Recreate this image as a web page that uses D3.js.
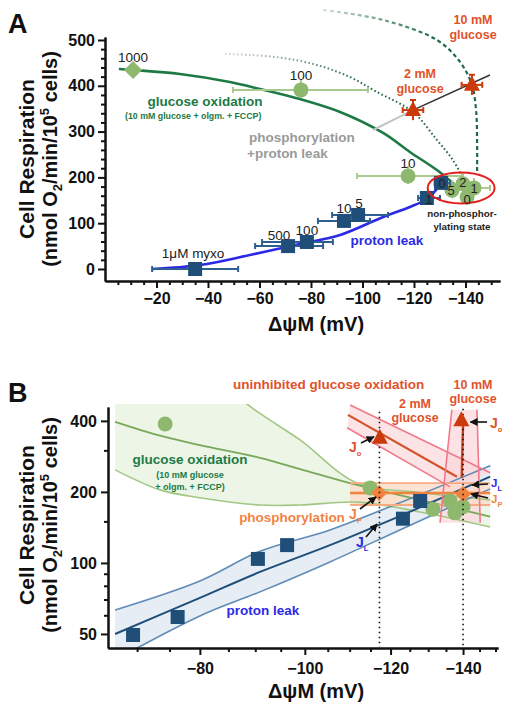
<!DOCTYPE html>
<html><head><meta charset="utf-8">
<script src="https://cdn.jsdelivr.net/npm/d3@7"></script>
<style>body{margin:0;background:#fff}svg{display:block}text{font-family:"Liberation Sans",Arial,sans-serif}</style>
</head><body><svg id="c" width="514" height="713"></svg>
<script>
// ================= DATA: Panel A =================
const oxLabelsA = ["1000", "100", "10", "5", "2", "0", "1"];
const oxVA      = [-10.9, -76.1, -117.7, -134.8, -139.0, -140.6, -143.3];
const oxJA      = [434.5, 391, 203, 172, 186, 157, 177];
const oxErrLoA  = [-10.9, -49.7, -97.9, -134.8, -139.0, -140.6, -140.0];
const oxErrHiA  = [-10.9, -102.1, -138.6, -134.8, -139.0, -140.6, -149.5];

const leakLabelsA = ["1μM myxo", "500", "100", "10", "5", "1", "0"];
const leakVA      = [-35.0, -71.1, -78.4, -92.8, -98.3, -125.0, -130.5];
const leakJA      = [0, 50, 59, 105, 118, 155, 188];
const leakErrLoA  = [-18.3, -58.3, -61.0, -82.7, -88.2, -121.6, -128.0];
const leakErrHiA  = [-51.7, -84.7, -88.5, -102.9, -109.9, -130.1, -134.0];

const glucLabelsA = ["2 mM", "10 mM"];
const glucVA      = [-119.6, -142.5];
const glucJA      = [347, 402];

const oxCurveV = [-5.4, -10.9, -29.1, -48.5, -60.2, -75.7, -91.3, -108.0, -118.4, -128.9, -135.9];
const oxCurveJ = [436.7, 434.5, 425.8, 408.3, 393, 371, 342.8, 297, 255.5, 216, 183.4];

const leakCurveV = [-18.3, -36.9, -56.3, -75.7, -91.3, -108.0, -118.4, -125.0, -128.9];
const leakCurveJ = [0, 8.7, 30.6, 54.6, 74.2, 113.5, 135.4, 152.8, 174.7];

const gluc2CurveV = [-46.6, -56.3, -69.1, -82.3, -95.1, -105.6, -119.6, -128.9, -135.1, -139.0];
const gluc2CurveJ = [469.4, 467.2, 460.7, 445.4, 419.2, 386.5, 342.8, 281.7, 238, 198.7];

const gluc10CurveV = [-84.7, -108.0, -128.9, -137.9, -142.5, -144.1, -144.5, -144.5];
const gluc10CurveJ = [565.5, 543.7, 500, 452, 401.7, 347, 281.7, 205];

const phosLineV = [-104.1, -119.6, -149.5];
const phosLineJ = [303.5, 347, 423.6];

const xTicksA = [-20, -40, -60, -80, -100, -120, -140];
const yTicksA = [0, 100, 200, 300, 400, 500];

// ================= DATA: Panel B =================
const oxVB = [-74.3, -114.9, -131.3, -136.2, -137.6, -140.0];
const oxJB = [388, 208, 169, 183, 163, 173];

const leakVB = [-69.4, -76.3, -90.5, -96.3, -123.2, -127.8];
const leakJB = [49.5, 59, 104, 119, 154, 183];

const phosVB = [-117.1, -140.0];
const phosJB = [198, 196];

const glucVB = [-117.3, -139.5];
const glucJB = [339, 402];

const leakBandV   = [-66.8, -80.0, -90.9, -105.5, -122.4, -148.3];
const leakBandMid = [50, 71.1, 91.6, 119, 158, 232];
const leakBandHi  = [63.2, 83.9, 112, 138, 180, 258];
const leakBandLo  = [38.8, 59.6, 75.4, 101, 138, 206];

const oxBandV   = [-66.8, -73.5, -80.0, -90.9, -99.0, -111.7, -127.8, -148.3];
const oxBandMid = [396, 346, 316, 279, 250, 214, 185, 157];
const oxBandHi  = [970, 800, 658, 430, 332, 218, 199, 185];
const oxBandLo  = [248, 204, 189, 176, 176, 181, 164.5, 142];

const phosBandV   = [-110.1, -148.3];
const phosBandMid = [198, 198];
const phosBandHi  = [218, 218];
const phosBandLo  = [176, 176];

const g2BandV1 = [-109.6, -138.2], g2BandMid = [424, 232];
const g2BandV2 = [-110.1, -148.3], g2BandHi = [467, 241];
const g2BandV3 = [-109.4, -136.2], g2BandLo = [374, 210];

const g10BandLeftV  = [-136.7, -133.3];
const g10BandRightV = [-144.2, -145.2];
const g10BandJ      = [446, 148];
const g10ArrowV = [-139.6, -140.0];
const g10ArrowJ = [230, 388];

const dropV = [-117.2, -140.0];
const dropTopJ = [437, 450];

const xTicksB = [-80, -100, -120, -140];
const yTicksB = [50, 100, 200, 400];
const yMinorB = [60, 70, 80, 90, 150, 300];

// ================= DRAW =================
const svg = d3.select("#c");
const FONT = '"Liberation Sans",Arial,sans-serif';
const col = {
  dkGreen: "#1d7a45", ltGreen: "#8fb86f", ltGreenErr: "#a9ca8f",
  navy: "#1f4e79", navyErr: "#2f5f90", blue: "#2a2ae6",
  red: "#cc3a0c", redTxt: "#e0532a", grey: "#9a9a9a", orange: "#f2833f"
};
const defs = svg.append("defs");
function arrowMarker(id, color){
  defs.append("marker").attr("id", id).attr("viewBox","0 0 10 10").attr("refX",9).attr("refY",5)
    .attr("markerWidth",5).attr("markerHeight",5).attr("orient","auto")
    .append("path").attr("d","M0,0L10,5L0,10z").attr("fill", color);
}
arrowMarker("arrK", "#111");

function zip(v, j){ return v.map((d,i)=>[d, j[i]]); }

// ---------- Panel A ----------
const xA = d3.scaleLinear().domain([0, -153.4]).range([105, 500]);
const yA = d3.scaleLinear().domain([-26.2, 506.5]).range([281, 37]);
const gA = svg.append("g");

function styleAxis(g){
  g.select(".domain").attr("stroke","#111").attr("stroke-width",2);
  g.selectAll(".tick line").attr("stroke","#111").attr("stroke-width",2);
  g.selectAll("text").style("font-family",FONT).style("font-size","16px").style("font-weight","bold").attr("fill","#111");
}
const fmt = d => (d < 0 ? "\u2212" : "") + Math.abs(d);

const xMinorA = d3.range(-5, -155, -5).filter(d => d % 20 !== 0);
gA.append("g").attr("transform","translate(0,281)")
  .call(d3.axisBottom(xA).tickValues(xMinorA).tickSize(4).tickSizeOuter(0).tickFormat(""))
  .call(styleAxis);
gA.append("g").attr("transform","translate(0,281)")
  .call(d3.axisBottom(xA).tickValues(xTicksA).tickSize(7).tickPadding(5).tickSizeOuter(0).tickFormat(fmt))
  .call(styleAxis);
const yMinorA = d3.range(20, 500, 20).filter(d => d % 100 !== 0);
gA.append("g").attr("transform","translate(105,0)")
  .call(d3.axisLeft(yA).tickValues(yMinorA).tickSize(4).tickSizeOuter(0).tickFormat(""))
  .call(styleAxis);
gA.append("g").attr("transform","translate(105,0)")
  .call(d3.axisLeft(yA).tickValues(yTicksA).tickSize(7).tickPadding(3).tickSizeOuter(0).tickFormat(fmt))
  .call(styleAxis);

function hGrad(id, x1, x2, c1, c2){
  const g = defs.append("linearGradient").attr("id", id).attr("gradientUnits","userSpaceOnUse")
    .attr("x1", x1).attr("x2", x2).attr("y1",0).attr("y2",0);
  g.append("stop").attr("offset",0).attr("stop-color",c1);
  g.append("stop").attr("offset",1).attr("stop-color",c2);
}
hGrad("g2grad", xA(-46), xA(-100), "#d8d8d8", "#2a6a48");
hGrad("g10grad", xA(-84), xA(-128), "#d5e2d5", "#1d6b44");

const lineA = d3.line().x(d => xA(d[0])).y(d => yA(d[1])).curve(d3.curveCatmullRom.alpha(0.5));
gA.append("path").attr("d", lineA(zip(gluc2CurveV, gluc2CurveJ))).attr("fill","none")
  .attr("stroke","url(#g2grad)").attr("stroke-width",2).attr("stroke-dasharray","1.6,2.4");
gA.append("path").attr("d", lineA(zip(gluc10CurveV, gluc10CurveJ))).attr("fill","none")
  .attr("stroke","url(#g10grad)").attr("stroke-width",2.2).attr("stroke-dasharray","4,3");
gA.append("path").attr("d", lineA(zip(oxCurveV, oxCurveJ))).attr("fill","none")
  .attr("stroke", col.dkGreen).attr("stroke-width",2.6);
gA.append("path").attr("d", lineA(zip(leakCurveV, leakCurveJ))).attr("fill","none")
  .attr("stroke", col.blue).attr("stroke-width",2.6);
gA.append("line").attr("x1", xA(phosLineV[0])).attr("y1", yA(phosLineJ[0]))
  .attr("x2", xA(phosLineV[1])).attr("y2", yA(phosLineJ[1])).attr("stroke","#c4c4c4").attr("stroke-width",2);
gA.append("line").attr("x1", xA(phosLineV[1])).attr("y1", yA(phosLineJ[1]))
  .attr("x2", xA(phosLineV[2])).attr("y2", yA(phosLineJ[2])).attr("stroke","#333").attr("stroke-width",1.5);

function errH(g, xs, x1, x2, y, color, w){
  if (Math.abs(xs(x1) - xs(x2)) < 1) return;
  g.append("line").attr("x1", xs(x1)).attr("x2", xs(x2)).attr("y1", y).attr("y2", y).attr("stroke", color).attr("stroke-width", w);
  [x1, x2].forEach(v => g.append("line").attr("x1", xs(v)).attr("x2", xs(v)).attr("y1", y-3).attr("y2", y+3).attr("stroke", color).attr("stroke-width", w));
}
oxVA.forEach((v,i) => errH(gA, xA, oxErrLoA[i], oxErrHiA[i], yA(oxJA[i]), col.ltGreenErr, 2));
oxVA.forEach((v,i) => {
  const cx = xA(v), cy = yA(oxJA[i]);
  if (i === 0) {
    gA.append("path").attr("d", `M${cx-9},${cy}L${cx},${cy-9}L${cx+9},${cy}L${cx},${cy+9}Z`).attr("fill", col.ltGreen);
  } else {
    gA.append("line").attr("x1",cx).attr("x2",cx).attr("y1",cy-10).attr("y2",cy+8).attr("stroke",col.ltGreenErr).attr("stroke-width",2);
    gA.append("circle").attr("cx", cx).attr("cy", cy).attr("r", 7.5).attr("fill", col.ltGreen);
  }
});
leakVA.forEach((v,i) => errH(gA, xA, leakErrLoA[i], leakErrHiA[i], yA(leakJA[i]), col.navyErr, 2));
leakVA.forEach((v,i) => {
  const cx = xA(v), cy = yA(leakJA[i]);
  gA.append("rect").attr("x", cx-7).attr("y", cy-7).attr("width",14).attr("height",14).attr("fill", col.navy);
});
glucVA.forEach((v,i) => {
  const cx = xA(v), cy = yA(glucJA[i]);
  errH(gA, xA, v+4, v-4, cy, col.red, 2);
  gA.append("line").attr("x1",cx).attr("x2",cx).attr("y1",yA(glucJA[i]+22)).attr("y2",yA(glucJA[i]-22)).attr("stroke",col.red).attr("stroke-width",2);
  gA.append("line").attr("x1",cx-3).attr("x2",cx+3).attr("y1",yA(glucJA[i]+22)).attr("y2",yA(glucJA[i]+22)).attr("stroke",col.red).attr("stroke-width",2);
  gA.append("path").attr("d", `M${cx},${cy-9}L${cx+8},${cy+6}L${cx-8},${cy+6}Z`).attr("fill", col.red);
});
gA.append("ellipse").attr("cx", xA(-138.3)).attr("cy", yA(177)).attr("rx", 33.5).attr("ry", 15.5)
  .attr("fill","none").attr("stroke","#e41e1e").attr("stroke-width",2);

function txt(g, x, y, s, opt){
  opt = opt || {};
  return g.append("text").attr("x", x).attr("y", y).text(s)
    .attr("text-anchor", opt.anchor || "middle")
    .style("font-size", (opt.size || 13.5) + "px")
    .style("font-weight", opt.bold ? "bold" : "normal")
    .attr("fill", opt.color || "#222");
}
txt(gA, xA(oxVA[0]), 62, oxLabelsA[0]);
txt(gA, xA(oxVA[1]), 80, oxLabelsA[1]);
txt(gA, xA(oxVA[2]), 168, oxLabelsA[2]);
txt(gA, xA(leakVA[0]) - 2, 258, leakLabelsA[0]);
txt(gA, xA(leakVA[1]) - 9, 240, leakLabelsA[1]);
txt(gA, xA(leakVA[2]), 235, leakLabelsA[2]);
txt(gA, xA(leakVA[3]), 213, leakLabelsA[3]);
txt(gA, xA(leakVA[4]) + 1, 208, leakLabelsA[4]);
txt(gA, xA(leakVA[6]) + 1, yA(leakJA[6]) + 5, leakLabelsA[6], {size:13});
txt(gA, xA(leakVA[5]) + 2, yA(leakJA[5]) + 6, leakLabelsA[5], {size:13});
txt(gA, xA(oxVA[3]) - 1, yA(oxJA[3]) + 5, oxLabelsA[3], {size:13});
txt(gA, xA(oxVA[4]), yA(oxJA[4]) + 3, oxLabelsA[4], {size:13});
txt(gA, xA(oxVA[5]), yA(oxJA[5]) + 7, oxLabelsA[5], {size:13});
txt(gA, xA(oxVA[6]), yA(oxJA[6]) + 5, oxLabelsA[6], {size:13});

txt(gA, 8, 33, "A", {anchor:"start", size:27, bold:true, color:"#111"});
txt(gA, 205, 106, "glucose oxidation", {size:13.5, bold:true, color:col.dkGreen});
txt(gA, 125, 119, "(10 mM glucose + olgm. + FCCP)", {anchor:"start", size:8.8, bold:true, color:col.dkGreen});
txt(gA, 249, 142, "phosphorylation", {anchor:"start", size:13.5, bold:true, color:col.grey});
txt(gA, 247, 158, "+proton leak", {anchor:"start", size:13.5, bold:true, color:col.grey});
txt(gA, 420, 78, glucLabelsA[0], {size:12.5, bold:true, color:col.redTxt});
txt(gA, 420, 92.5, "glucose", {size:12.5, bold:true, color:col.redTxt});
txt(gA, 473, 24, glucLabelsA[1], {size:12.5, bold:true, color:col.redTxt});
txt(gA, 473, 38.5, "glucose", {size:12.5, bold:true, color:col.redTxt});
txt(gA, 387, 245, "proton leak", {size:13.5, bold:true, color:col.blue});
txt(gA, 462, 217, "non-phosphor-", {size:9.8, bold:true, color:"#222"});
txt(gA, 462, 230, "ylating state", {size:9.8, bold:true, color:"#222"});

function yLabel(g, cy){
  g.append("text").attr("transform", `translate(34,${cy}) rotate(-90)`).attr("text-anchor","middle")
    .style("font-size","21px").style("font-weight","bold").attr("fill","#111").text("Cell Respiration");
  const t = g.append("text").attr("transform", `translate(57,${cy}) rotate(-90)`).attr("text-anchor","middle")
    .style("font-size","20px").style("font-weight","bold").attr("fill","#111");
  t.append("tspan").text("(nmol O");
  t.append("tspan").attr("dy", 5).style("font-size","13px").text("2");
  t.append("tspan").attr("dy", -5).text("/min/10");
  t.append("tspan").attr("dy", -8).style("font-size","13px").text("5");
  t.append("tspan").attr("dy", 8).text(" cells)");
}
function xLabel(g, y){
  g.append("text").attr("x", 316).attr("y", y).attr("text-anchor","middle")
    .style("font-size","20px").style("font-weight","bold").attr("fill","#111").text("\u0394\u03c8M (mV)");
}
yLabel(gA, 159);
xLabel(gA, 331);

// ---------- Panel B ----------
const xB = d3.scaleLog().domain([-65.8, -150.8]).range([108, 498]);
const yB = d3.scaleLog().domain([43.6, 458]).range([648, 407]);
const gB = svg.append("g");
defs.append("clipPath").attr("id","clipB").append("rect").attr("x",108).attr("y",404).attr("width",392).attr("height",244);
const plotB = gB.append("g").attr("clip-path","url(#clipB)");

const lineB = d3.line().x(d => xB(d[0])).y(d => yB(d[1])).curve(d3.curveCatmullRom.alpha(0.5));
const lineBs = d3.line().x(d => xB(d[0])).y(d => yB(d[1]));
const areaB = d3.area().x(d => xB(d[0])).y0(d => yB(d[1])).y1(d => yB(d[2])).curve(d3.curveCatmullRom.alpha(0.5));
function tri(v, a, b){ return v.map((d,i)=>[d, a[i], b[i]]); }

plotB.append("path").attr("d", areaB(tri(oxBandV, oxBandLo, oxBandHi))).attr("fill","#e9f3e2").attr("opacity",0.85);
plotB.append("path").attr("d", areaB(tri(leakBandV, leakBandLo, leakBandHi))).attr("fill","#e3ebf3").attr("opacity",0.9);
plotB.append("path").attr("d", `M${xB(g2BandV2[0])},${yB(g2BandHi[0])}L${xB(g2BandV2[1])},${yB(g2BandHi[1])}L${xB(g2BandV3[1])},${yB(g2BandLo[1])}L${xB(g2BandV3[0])},${yB(g2BandLo[0])}Z`)
  .attr("fill","#fbd9dc").attr("opacity",0.7);
plotB.append("path").attr("d", `M${xB(g10BandLeftV[0])},${yB(g10BandJ[0])}L${xB(g10BandRightV[0])},${yB(g10BandJ[0])}L${xB(g10BandRightV[1])},${yB(g10BandJ[1])}L${xB(g10BandLeftV[1])},${yB(g10BandJ[1])}Z`)
  .attr("fill","#fbd6da").attr("opacity",0.7);
plotB.append("path").attr("d", areaB(tri(phosBandV, phosBandLo, phosBandHi))).attr("fill","#fddccb").attr("opacity",0.8);

function bl(v, j, color, w, curved){ plotB.append("path").attr("d", (curved ? lineB : lineBs)(zip(v, j))).attr("fill","none").attr("stroke", color).attr("stroke-width", w); }
bl(oxBandV, oxBandHi, "#a2c785", 1.6, true);
bl(oxBandV, oxBandLo, "#a2c785", 1.6, true);
bl(oxBandV, oxBandMid, "#78a85a", 1.8, true);
bl(leakBandV, leakBandHi, "#5f8bb6", 1.6, true);
bl(leakBandV, leakBandLo, "#5f8bb6", 1.6, true);
bl(leakBandV, leakBandMid, "#1f4e79", 2, true);
bl(phosBandV, phosBandHi, "#f7ab82", 1.8, false);
bl(phosBandV, phosBandLo, "#f7ab82", 1.8, false);
bl(phosBandV, phosBandMid, col.orange, 2.4, false);
bl(g2BandV2, g2BandHi, "#f2788a", 1.6, false);
bl(g2BandV3, g2BandLo, "#f2788a", 1.6, false);
bl(g2BandV1, g2BandMid, "#d2522a", 2.2, false);
bl(g10BandLeftV, g10BandJ, "#f2788a", 1.6, false);
bl(g10BandRightV, g10BandJ, "#f2788a", 1.6, false);
bl(g10ArrowV, g10ArrowJ, "#c8401a", 2.4, false);

dropV.forEach((v,i) => gB.append("line").attr("x1", xB(v)).attr("x2", xB(v)).attr("y1", yB(dropTopJ[i])).attr("y2", 647)
  .attr("stroke","#111").attr("stroke-width",1.6).attr("stroke-dasharray","1.5,3.5"));

oxVB.forEach((v,i) => plotB.append("circle").attr("cx", xB(v)).attr("cy", yB(oxJB[i])).attr("r", 7.5).attr("fill", col.ltGreen));
leakVB.forEach((v,i) => plotB.append("rect").attr("x", xB(v)-7).attr("y", yB(leakJB[i])-7).attr("width",14).attr("height",14).attr("fill", col.navy));
phosVB.forEach((v,i) => { const cx = xB(v), cy = yB(phosJB[i]);
  plotB.append("path").attr("d", `M${cx-8},${cy}L${cx},${cy-8}L${cx+8},${cy}L${cx},${cy+8}Z`).attr("fill", col.orange); });
glucVB.forEach((v,i) => { const cx = xB(v), cy = yB(glucJB[i]);
  gB.append("path").attr("d", `M${cx},${cy-9}L${cx+8},${cy+6}L${cx-8},${cy+6}Z`).attr("fill", col.red); });

const xMinorB = d3.range(-70, -155, -5).filter(d => d % 20 !== 0);
gB.append("g").attr("transform","translate(0,648)")
  .call(d3.axisBottom(xB).tickValues(xMinorB).tickSize(4).tickSizeOuter(0).tickFormat(""))
  .call(styleAxis);
gB.append("g").attr("transform","translate(0,648)")
  .call(d3.axisBottom(xB).tickValues(xTicksB).tickSize(7).tickPadding(8).tickSizeOuter(0).tickFormat(fmt))
  .call(styleAxis);
gB.append("g").attr("transform","translate(108,0)")
  .call(d3.axisLeft(yB).tickValues(yMinorB).tickSize(4).tickSizeOuter(0).tickFormat(""))
  .call(styleAxis);
gB.append("g").attr("transform","translate(108,0)")
  .call(d3.axisLeft(yB).tickValues(yTicksB).tickSize(7).tickPadding(4).tickSizeOuter(0).tickFormat(fmt))
  .call(styleAxis);

txt(gB, 8, 402, "B", {anchor:"start", size:27, bold:true, color:"#111"});
txt(gB, 233, 389, "uninhibited glucose oxidation", {anchor:"start", size:13.5, bold:true, color:col.redTxt});
txt(gB, 415, 407.5, "2 mM", {size:12.5, bold:true, color:col.redTxt});
txt(gB, 415, 422, "glucose", {size:12.5, bold:true, color:col.redTxt});
txt(gB, 473, 388.5, "10 mM", {size:12.5, bold:true, color:col.redTxt});
txt(gB, 473, 403, "glucose", {size:12.5, bold:true, color:col.redTxt});
txt(gB, 190, 464, "glucose oxidation", {size:13.5, bold:true, color:col.dkGreen});
txt(gB, 190, 477.5, "(10 mM glucose", {size:9, bold:true, color:col.dkGreen});
txt(gB, 190, 489.5, "+ olgm. + FCCP)", {size:9, bold:true, color:col.dkGreen});
txt(gB, 292, 522, "phosphorylation", {size:13.5, bold:true, color:col.orange});
txt(gB, 263, 615, "proton leak", {size:13.5, bold:true, color:col.blue});

function jLab(x, y, sub, color, size){
  const t = gB.append("text").attr("x", x).attr("y", y).attr("fill", color).style("font-size",(size||14)+"px").style("font-weight","bold");
  t.append("tspan").text("J");
  t.append("tspan").attr("dy", 3.5).style("font-size","7.5px").text(sub);
}
function arr(x1,y1,x2,y2){ gB.append("line").attr("x1",x1).attr("y1",y1).attr("x2",x2).attr("y2",y2).attr("stroke","#111").attr("stroke-width",1.6).attr("marker-end","url(#arrK)"); }
jLab(349, 452, "o", col.redTxt); arr(361, 443, xB(glucVB[0]) - 6, yB(glucJB[0]) - 1);
jLab(349, 519, "P", col.orange); arr(360, 509, xB(phosVB[0]) - 3, yB(phosJB[0]) + 4);
jLab(356, 547, "L", "#2a2ae6"); arr(366, 537, 377, 524);
jLab(490, 428, "o", col.redTxt); arr(487, 422, xB(glucVB[1]) + 9, 422);
jLab(491, 487, "L", "#2a2ae6", 11.5); arr(488, 484, 472, 485);
jLab(491, 503, "P", col.orange, 11.5); arr(488, 498, xB(phosVB[1]) + 8, yB(phosJB[1]));

yLabel(gB, 525);
xLabel(gB, 698);
</script></body></html>
